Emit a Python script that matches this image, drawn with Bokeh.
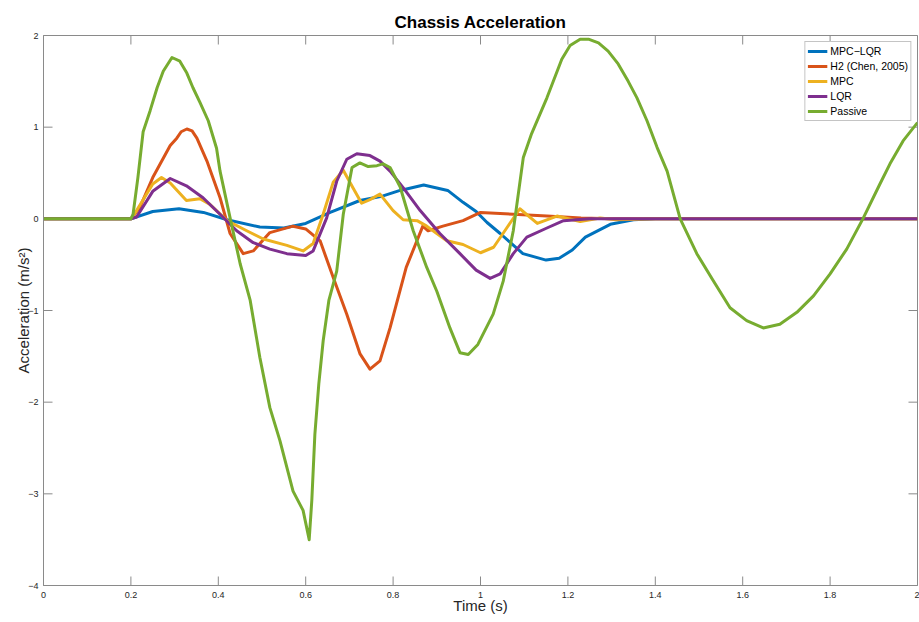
import math
from bokeh.plotting import figure
from bokeh.models import FixedTicker, Legend, LegendItem, Range1d
from bokeh.embed import file_html
from bokeh.resources import INLINE

# ---------------- data ----------------
t_mpclqr = [0, 0.2, 0.25, 0.31, 0.366, 0.42, 0.495, 0.55, 0.6, 0.656, 0.724, 0.777, 0.816, 0.87,
            0.925, 0.96, 0.99, 1.015, 1.045, 1.097, 1.15, 1.18, 1.21, 1.24, 1.297, 1.35, 1.4, 1.5, 2.0]
y_mpclqr = [0, 0, 0.08, 0.11, 0.07, -0.01, -0.09, -0.1, -0.05, 0.07, 0.2, 0.25, 0.31, 0.37,
            0.31, 0.18, 0.08, -0.04, -0.16, -0.38, -0.45, -0.43, -0.34, -0.2, -0.06, -0.01, 0, 0, 0]

t_h2 = [0, 0.2, 0.22, 0.25, 0.29, 0.305, 0.315, 0.328, 0.34, 0.351, 0.374, 0.404, 0.427, 0.457,
        0.48, 0.518, 0.571, 0.6, 0.633, 0.663, 0.694, 0.724, 0.747, 0.77, 0.793, 0.83, 0.868, 0.88,
        0.914, 0.96, 1.0, 1.075, 1.152, 1.23, 1.3, 2.0]
y_h2 = [0, 0, 0.12, 0.45, 0.8, 0.88, 0.95, 0.98, 0.96, 0.88, 0.63, 0.23, -0.16, -0.38,
        -0.35, -0.15, -0.08, -0.11, -0.24, -0.64, -1.04, -1.47, -1.64, -1.55, -1.19, -0.53, -0.08, -0.13,
        -0.08, -0.02, 0.07, 0.05, 0.03, 0.01, 0, 0]

t_mpc = [0, 0.2, 0.213, 0.25, 0.27, 0.29, 0.327, 0.358, 0.38, 0.42, 0.465, 0.503, 0.557, 0.594,
         0.617, 0.64, 0.663, 0.686, 0.709, 0.728, 0.747, 0.77, 0.8, 0.823, 0.855, 0.877, 0.923, 0.96,
         1.0, 1.03, 1.06, 1.09, 1.13, 1.175, 1.228, 1.274, 1.31, 1.4, 2.0]
y_mpc = [0, 0, 0.09, 0.38, 0.45, 0.39, 0.2, 0.22, 0.16, -0.02, -0.13, -0.22, -0.29, -0.35,
         -0.27, 0.05, 0.4, 0.53, 0.33, 0.17, 0.21, 0.27, 0.09, -0.01, -0.02, -0.08, -0.24, -0.28,
         -0.37, -0.31, -0.1, 0.11, -0.05, 0.03, -0.03, 0.01, -0.01, 0, 0]

t_lqr = [0, 0.2, 0.213, 0.25, 0.29, 0.327, 0.365, 0.404, 0.442, 0.48, 0.518, 0.557, 0.6, 0.617,
         0.648, 0.671, 0.694, 0.717, 0.747, 0.77, 0.793, 0.823, 0.862, 0.907, 0.953, 0.99, 1.022,
         1.045, 1.075, 1.106, 1.152, 1.19, 1.25, 2.0]
y_lqr = [0, 0, 0.02, 0.3, 0.44, 0.36, 0.23, 0.05, -0.13, -0.26, -0.33, -0.38, -0.4, -0.35,
         0.01, 0.41, 0.65, 0.71, 0.69, 0.63, 0.52, 0.34, 0.09, -0.16, -0.38, -0.56, -0.65,
         -0.6, -0.38, -0.2, -0.1, -0.02, 0, 0]

t_passive = [0, 0.2, 0.205, 0.216, 0.228, 0.244, 0.26, 0.274, 0.294, 0.312, 0.328, 0.342, 0.358,
             0.377, 0.396, 0.404, 0.427, 0.45, 0.473, 0.495, 0.518, 0.541, 0.571, 0.594, 0.608,
             0.614, 0.621, 0.63, 0.64, 0.653, 0.671, 0.686, 0.706, 0.724, 0.743, 0.763, 0.777,
             0.793, 0.816, 0.846, 0.877, 0.9, 0.93, 0.953, 0.972, 0.994, 1.029, 1.052, 1.075,
             1.098, 1.117, 1.152, 1.186, 1.205, 1.228, 1.247, 1.27, 1.292, 1.315, 1.338, 1.358,
             1.381, 1.404, 1.427, 1.457, 1.495, 1.532, 1.571, 1.609, 1.647, 1.685, 1.724, 1.762,
             1.8, 1.838, 1.875, 1.914, 1.937, 1.967, 2.0]
y_passive = [0, 0, 0.05, 0.45, 0.95, 1.18, 1.43, 1.61, 1.76, 1.72, 1.59, 1.43, 1.27,
             1.07, 0.77, 0.52, 0.01, -0.49, -0.89, -1.51, -2.06, -2.42, -2.97, -3.18, -3.5,
             -3.07, -2.35, -1.8, -1.33, -0.89, -0.57, 0.05, 0.56, 0.61, 0.57, 0.58, 0.6,
             0.56, 0.35, -0.13, -0.53, -0.79, -1.19, -1.46, -1.48, -1.37, -1.04, -0.68, -0.13,
             0.67, 0.93, 1.32, 1.74, 1.89, 1.96, 1.96, 1.92, 1.83, 1.69, 1.5, 1.32,
             1.07, 0.78, 0.52, 0, -0.38, -0.67, -0.97, -1.11, -1.19, -1.15, -1.02, -0.84,
             -0.6, -0.33, 0, 0.38, 0.6, 0.85, 1.05]

series_names = ["MPC\u2212LQR", "H2 (Chen, 2005)", "MPC", "LQR", "Passive"]
series_colors = ["#0072BD", "#D95319", "#EDB120", "#7E2F8E", "#77AC30"]
x_ticks = [0, 0.2, 0.4, 0.6, 0.8, 1, 1.2, 1.4, 1.6, 1.8, 2]
y_ticks = [-4, -3, -2, -1, 0, 1, 2]
x_lim = [0, 2]
y_lim = [-4, 2]

FONT = "Liberation Sans"
AX = "#8a8a8a"
TXT = "#262626"

p = figure(width=919, height=622, output_backend="svg", toolbar_location=None,
           x_range=Range1d(x_lim[0], x_lim[1]), y_range=Range1d(y_lim[0], y_lim[1]),
           min_border_left=43, min_border_right=2, min_border_top=35, min_border_bottom=37)

p.title.text = "Chassis Acceleration"
p.title.align = "center"
p.title.text_font = FONT
p.title.text_font_size = "17px"
p.title.text_font_style = "bold"
p.title.text_color = "black"
p.title.standoff = 8

p.xgrid.visible = False
p.ygrid.visible = False
p.outline_line_color = AX
p.outline_line_width = 1
p.background_fill_color = "white"
p.border_fill_color = "white"

for ax in (p.xaxis[0], p.yaxis[0]):
    ax.axis_line_color = AX
    ax.major_tick_line_color = None
    ax.major_tick_in = 0
    ax.major_tick_out = 0
    ax.minor_tick_line_color = None
    ax.major_label_text_font = FONT
    ax.major_label_text_font_size = "9px"
    ax.major_label_text_color = TXT
    ax.axis_label_text_font = FONT
    ax.axis_label_text_font_size = "15px"
    ax.axis_label_text_font_style = "normal"
    ax.axis_label_text_color = TXT

p.xaxis[0].ticker = FixedTicker(ticks=x_ticks)
p.yaxis[0].ticker = FixedTicker(ticks=y_ticks)
p.xaxis[0].major_label_standoff = 6
p.yaxis[0].major_label_standoff = 5
p.xaxis[0].axis_label = "Time (s)"
p.yaxis[0].axis_label = "Acceleration (m/s\u00b2)"
p.xaxis[0].axis_label_standoff = -4
p.yaxis[0].axis_label_standoff = -7

# inward box ticks on all four sides (markers centred on the frame edges, clipped by the frame)
tick_kw = dict(marker="dash", size=18, line_color=AX, line_width=1)
p.scatter(x=x_ticks, y=[y_lim[0]] * len(x_ticks), angle=math.pi / 2, **tick_kw)
p.scatter(x=x_ticks, y=[y_lim[1]] * len(x_ticks), angle=math.pi / 2, **tick_kw)
p.scatter(x=[x_lim[0]] * len(y_ticks), y=y_ticks, **tick_kw)
p.scatter(x=[x_lim[1]] * len(y_ticks), y=y_ticks, **tick_kw)

data = [(t_mpclqr, y_mpclqr), (t_h2, y_h2), (t_mpc, y_mpc), (t_lqr, y_lqr), (t_passive, y_passive)]
items = []
for (tt, yy), name, col in zip(data, series_names, series_colors):
    r = p.line(tt, yy, line_color=col, line_width=3, line_join="round")
    items.append(LegendItem(label=name, renderers=[r]))

legend = Legend(items=items, location="top_right")
legend.label_text_font = FONT
legend.label_text_font_size = "10.5px"
legend.label_text_color = "black"
legend.label_standoff = 3
legend.label_height = 14
legend.glyph_width = 20
legend.glyph_height = 14
legend.spacing = 1
legend.padding = 2
legend.margin = 6
legend.border_line_color = AX
legend.border_line_width = 1
legend.background_fill_color = "white"
legend.background_fill_alpha = 1
p.add_layout(legend)

open("out.html", "w").write(file_html(p, INLINE))
